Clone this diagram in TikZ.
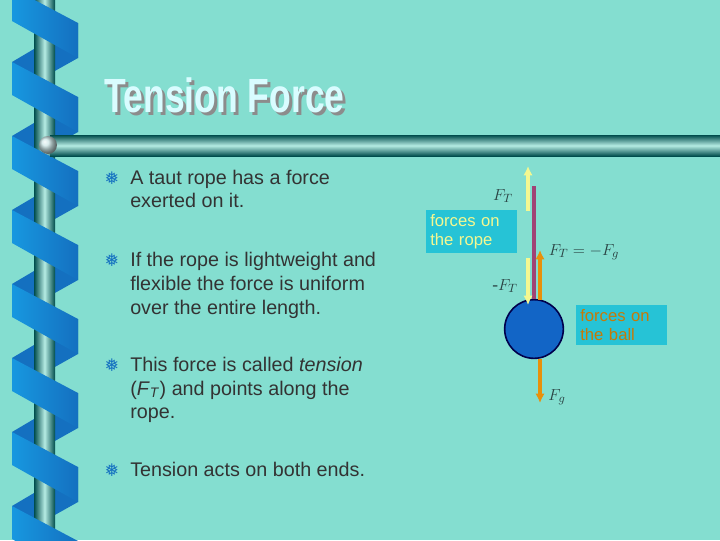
\documentclass[tikz,border=0pt]{standalone}
\usepackage{fontspec}
\usetikzlibrary{arrows.meta}
\setmainfont{Liberation Sans}
\newfontfamily\djv{DejaVu Sans}
\newfontfamily\serifit{Liberation Serif}
\begin{document}
\begin{tikzpicture}[x=0.75pt,y=-0.75pt]
\definecolor{bg}{HTML}{84DED0}
\definecolor{rib}{HTML}{1A8CDC}
\definecolor{ribd}{HTML}{1470C0}
\definecolor{boxc}{HTML}{26C3D6}
\definecolor{txt}{HTML}{333333}
\definecolor{ora}{HTML}{E8900A}
\definecolor{yel}{HTML}{F4F890}
\tikzset{bul/.style={anchor=base west,text=txt,font=\fontsize{14.8}{18}\selectfont,inner sep=0},
 mk/.style={anchor=base,text=ribd,font=\djv\fontsize{13}{14}\selectfont,inner sep=0},
 lab/.style={text=txt!80!teal,font=\serifit\itshape\fontsize{13}{15}\selectfont,inner sep=0},
 fbox/.style={fill=boxc,align=left,font=\fontsize{12.5}{14.5}\selectfont,inner sep=3pt,text width=62pt}}
\useasboundingbox (0,0) rectangle (720,540);
\clip (0,0) rectangle (720,540);
\fill[bg] (0,0) rectangle (720,540);
% back ribbon bands
\foreach \y in {-86,-12,62,136,210,284,358,432,506}{
  \fill[ribd] (78,\y+35) -- (78,\y+70) -- (12,\y+107) -- (12,\y+74) -- cycle;}
% pole
\shade[left color=teal!60!black,right color=teal!60!black,middle color=bg!60!white] (34,0) rectangle (55,540);
% front ribbon bands
\foreach \y in {-86,-12,62,136,210,284,358,432,506}{
  \shade[left color=rib!90!cyan,right color=ribd] (12,\y) -- (78,\y+35) -- (78,\y+70) -- (12,\y+33) -- cycle;}
% horizontal bar
\shade[top color=teal!60!black,bottom color=teal!60!black,middle color=bg!60!white] (50,135) rectangle (720,156);
\shade[ball color=white!80!teal] (48,145) circle (9);
% title
\node[text=black!45,font=\bfseries\fontsize{36}{40}\selectfont,xscale=0.74,anchor=west] at (104,98) {Tension Force};
\node[text=blue!8!cyan!15!white,font=\bfseries\fontsize{36}{40}\selectfont,xscale=0.74,anchor=west] (title) at (101,95) {Tension Force};
% bullets
\foreach \yy in {184,266,371,476} \node[mk] at (112,\yy) {❅};
\node[bul] (b1) at (130,184) {A taut rope has a force};
\node[bul] at (130,207) {exerted on it.};
\node[bul] (b2) at (130,266) {If the rope is lightweight and};
\node[bul] at (130,290) {flexible the force is uniform};
\node[bul] at (130,314) {over the entire length.};
\node[bul] (b3) at (130,371) {This force is called \textit{tension}};
\node[bul] at (130,395) {(\textit{F}\textsubscript{\textit{T}}) and points along the};
\node[bul] at (130,418) {rope.};
\node[bul] (b4) at (130,476) {Tension acts on both ends.};
% rope and ball
\coordinate (ropetop) at (534,186);
\node[circle,draw=blue!30!black,line width=1.2pt,fill=ribd!90!blue,minimum size=44pt,inner sep=0] (ball) at (534,329) {};
\draw[line width=2.5pt,magenta!60!black] (ropetop) -- (ball.north);
\coordinate (y1a) at (528,211); \coordinate (y1b) at (528,166);
\draw[yel,line width=3pt,-{Latex[length=7pt,width=7pt]}] (y1a) -- (y1b);
\coordinate (y2a) at (528,258);
\draw[yel,line width=3pt,-{Latex[length=7pt,width=7pt]}] (y2a) -- (528,305);
\coordinate (o1a) at (540,300); \coordinate (o1b) at (540,250);
\draw[ora,line width=2.5pt,-{Latex[length=7pt,width=7pt]}] (o1a) -- (o1b);
\coordinate (o2b) at (540,403);
\draw[ora,line width=2.5pt,-{Latex[length=7pt,width=7pt]}] (ball.south -| o1a) -- (o2b);
% labels
\node[lab] (l1) at (503,196) {$F_T$};
\node[lab] (l2) at (505,286) {-$F_T$};
\node[lab] (l3) at (584,252) {$F_T = -F_g$};
\node[lab] (l4) at (557,397) {$F_g$};
\node[fbox,text=yel,anchor=north west] (r) at (426,210) {forces on the rope};
\node[fbox,text=ora!85!black,anchor=north west] (bb) at (576,305) {forces on the ball};
\end{tikzpicture}
\end{document}
